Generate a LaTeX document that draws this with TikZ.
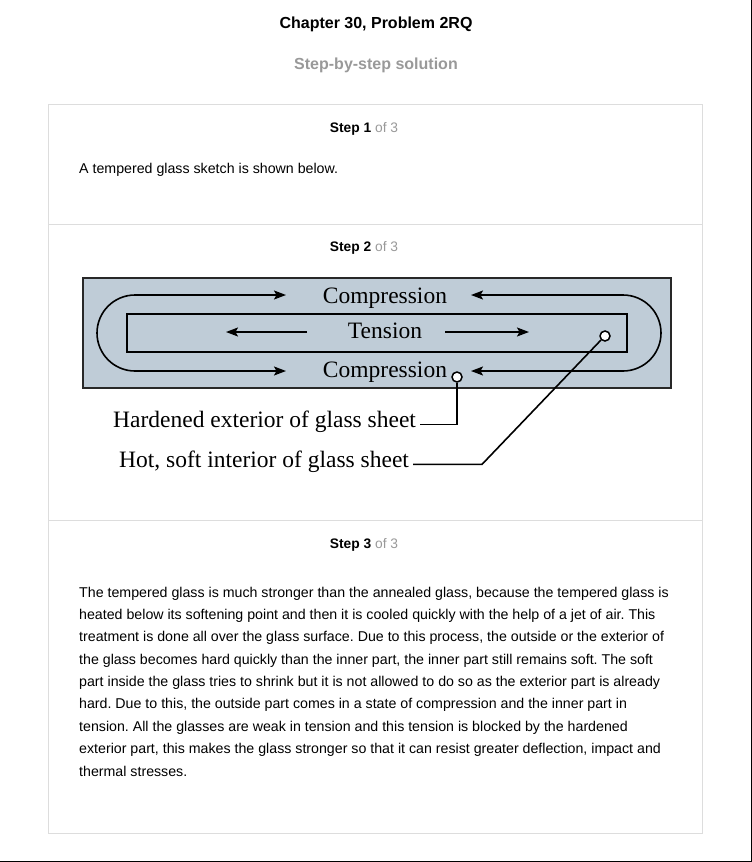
\documentclass[tikz,border=0pt]{standalone}
\usepackage{fontspec}
\setmainfont{Liberation Sans}
\newfontfamily\glassfont{Liberation Serif}
\usetikzlibrary{arrows.meta}
\frenchspacing

\definecolor{panelgray}{RGB}{221,221,221}
\definecolor{subgray}{RGB}{153,153,153}
\definecolor{glassfill}{RGB}{191,204,215}
\definecolor{glassedge}{RGB}{40,40,40}

\tikzset{
  steplabel/.style={anchor=base, font=\fontsize{13.8}{16}\selectfont, inner sep=0pt},
  bodytext/.style={anchor=base west, font=\fontsize{14.2}{16}\selectfont, inner sep=0pt},
  glasslabel/.style={font=\glassfont\fontsize{23.5}{26}\selectfont, inner sep=0pt},
  tip/.tip={Stealth[length=12pt,width=9pt,inset=2.5pt]},
  flow/.style={line width=1.6pt, -tip},
  bothflow/.style={line width=1.6pt, tip-tip},
  leader/.style={line width=1.6pt},
  dot/.style={circle, draw, fill=white, line width=1.5pt, minimum size=10pt, inner sep=0pt}
}

\begin{document}
\begin{tikzpicture}[x=1pt, y=-1pt]
    \useasboundingbox (0,0) rectangle (752,862);

    % Page edge on the right and at the bottom
    \draw[line width=1.2pt] (751.4,0) -- (751.4,861.4) -- (0,861.4);

    % Headings
    \node[anchor=base, inner sep=0pt, font=\bfseries\fontsize{16}{19}\selectfont] (title) at (376,28) {Chapter 30, Problem 2RQ};
    \node[anchor=base, inner sep=0pt, text=subgray, font=\bfseries\fontsize{16}{19}\selectfont] (subtitle) at (376,69) {Step-by-step solution};

    % Panel with the three steps
    \draw[panelgray, line width=1pt] (48.5,104.5) rectangle (702.5,833.5);
    \draw[panelgray, line width=1pt] (48.5,224.5) -- (702.5,224.5);
    \draw[panelgray, line width=1pt] (48.5,520.5) -- (702.5,520.5);

    \node[steplabel] (step1) at (364,132) {\textbf{Step 1} \textcolor{subgray}{of 3}};
    \node[steplabel] (step2) at (364,251) {\textbf{Step 2} \textcolor{subgray}{of 3}};
    \node[steplabel] (step3) at (364,548) {\textbf{Step 3} \textcolor{subgray}{of 3}};

    \node[bodytext] (intro) at (79,173) {A tempered glass sketch is shown below.};

    % Tempered glass sheet
    \draw[glassedge, fill=glassfill, line width=1.8pt] (83,278) rectangle (671,388);
    \draw[line width=1.8pt] (127,314) rectangle (627,352);

    \node[glasslabel, anchor=base] (comptop) at (385,303) {Compression};
    \node[glasslabel, anchor=base] (tension) at (385,338) {Tension};
    \node[glasslabel, anchor=base] (compbot) at (385,377) {Compression};

    % Compression loop, left and right halves
    \draw[bothflow, rounded corners=38pt]
        (286,295) -- (97,295) -- (97,371) -- (286,371);
    \draw[bothflow, rounded corners=38pt]
        (471,295) -- (661,295) -- (661,371) -- (471,371);

    % Tension arrows
    \draw[flow] (307,332) -- (226,332);
    \draw[flow] (445,332) -- (529,332);

    % Leaders to the labels
    \node[dot] (extdot) at (457,377) {};
    \node[dot] (intdot) at (605,336) {};
    \node[glasslabel, anchor=base west] (hard) at (113,427) {Hardened exterior of glass sheet};
    \node[glasslabel, anchor=base west] (hot) at (119,467) {Hot, soft interior of glass sheet};
    \coordinate (bend) at (482,461);

    \draw[leader] (extdot.south) |- ([xshift=4pt]hard.mid east);
    \draw[leader] (intdot.south west) -- (bend |- hot.mid east) -- ([xshift=4pt]hot.mid east);

    % Step 3 text
    \foreach \txt [count=\i from 0] in {
        {The tempered glass is much stronger than the annealed glass, because the tempered glass is},
        {heated below its softening point and then it is cooled quickly with the help of a jet of air. This},
        {treatment is done all over the glass surface. Due to this process, the outside or the exterior of},
        {the glass becomes hard quickly than the inner part, the inner part still remains soft. The soft},
        {part inside the glass tries to shrink but it is not allowed to do so as the exterior part is already},
        {hard. Due to this, the outside part comes in a state of compression and the inner part in},
        {tension. All the glasses are weak in tension and this tension is blocked by the hardened},
        {exterior part, this makes the glass stronger so that it can resist greater deflection, impact and},
        {thermal stresses.}}
        \node[bodytext] (line\i) at (79,597+22.375*\i) {\txt};
\end{tikzpicture}
\end{document}
